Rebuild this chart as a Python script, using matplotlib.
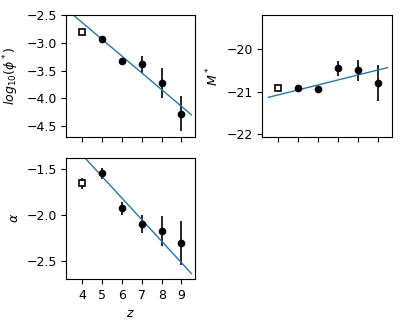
import numpy as np
import matplotlib
matplotlib.use("Agg")
import matplotlib.pyplot as plt

plt.rcParams["font.size"] = 9

# redshift bins
z = [4, 5, 6, 7, 8, 9]

# log10(phi*)
logphi = [-2.80, -2.93, -3.33, -3.39, -3.72, -4.28]
logphi_err = [0.0, 0.03, 0.05, 0.16, 0.27, 0.32]

# M*
mstar = [-20.90, -20.92, -20.93, -20.45, -20.49, -20.80]
mstar_err = [0.0, 0.05, 0.06, 0.17, 0.25, 0.42]

# alpha
alpha = [-1.66, -1.55, -1.93, -2.10, -2.18, -2.31]
alpha_err = [0.06, 0.06, 0.07, 0.10, 0.16, 0.24]

# linear fits (end points at z=3.5 and z=9.5)
fit_z = [3.5, 9.5]
fit_logphi = [-2.48, -4.30]
fit_mstar = [-21.13, -20.43]
fit_alpha = [-1.235, -2.64]

fig, axes = plt.subplots(2, 2, figsize=(4.07, 3.26), dpi=100, sharex=True)
plt.subplots_adjust(left=0.163, right=0.962, top=0.953, bottom=0.144,
                    wspace=0.52, hspace=0.17)
axes[1, 1].remove()


def panel(ax, vals, errs, fit, ylabel, ylim):
    ax.errorbar(z[1:], vals[1:], yerr=errs[1:], fmt="o", color="k",
                markersize=4.5, elinewidth=1.2, capsize=0)
    ax.errorbar(z[:1], vals[:1], yerr=errs[:1], fmt="s", color="k",
                mfc="white", mec="k", markersize=5, mew=1.2,
                elinewidth=1.2, capsize=0)
    ax.plot(fit_z, fit, color="#1f77b4", linewidth=1.0)
    ax.set_ylabel(ylabel)
    ax.set_ylim(*ylim)


panel(axes[0, 0], logphi, logphi_err, fit_logphi,
      r"$log_{10}(\phi^*)$", (-4.7, -2.5))
axes[0, 0].set_yticks([-2.5, -3.0, -3.5, -4.0, -4.5])

panel(axes[0, 1], mstar, mstar_err, fit_mstar, r"$M^*$", (-22.06, -19.2))
axes[0, 1].set_yticks([-20, -21, -22])
axes[0, 1].tick_params(labelbottom=False)

panel(axes[1, 0], alpha, alpha_err, fit_alpha, r"$\alpha$", (-2.70, -1.38))
axes[1, 0].set_yticks([-1.5, -2.0, -2.5])
axes[1, 0].set_xlabel(r"$z$")
axes[1, 0].set_xticks(z)
axes[1, 0].set_xlim(3.2, 9.7)

fig.savefig("out.png", dpi=100)
